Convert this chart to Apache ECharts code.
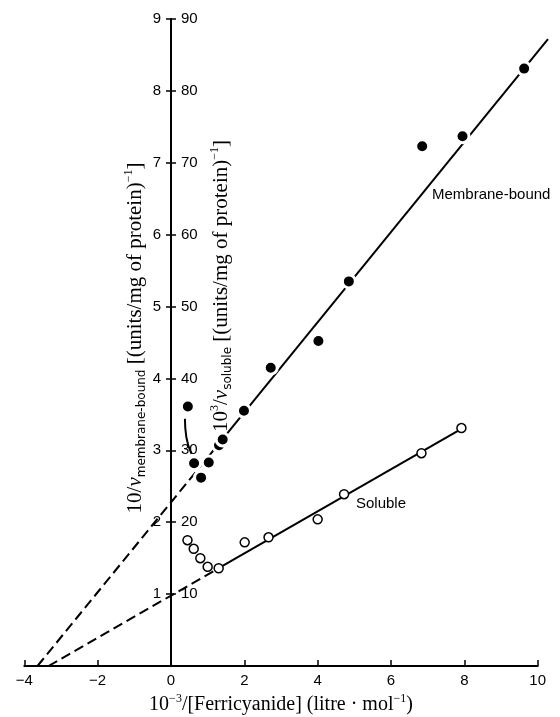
<!DOCTYPE html>
<html><head><meta charset="utf-8">
<script src="https://cdn.jsdelivr.net/npm/echarts@6/dist/echarts.min.js"></script>
<style>html,body{margin:0;padding:0;background:#fff}#c{width:560px;height:717px}</style>
</head><body><div id="c"></div>
<script>
// ---- data ----
const xTickMin = -4, xTickMax = 10, xTickStep = 2;
const leftTickMax = 9, leftTickStep = 1;      // 10/v membrane-bound
const rightTickMax = 90, rightTickStep = 10;  // 10^3/v soluble
const membraneX = [0.46, 0.63, 0.82, 1.03, 1.31, 1.41, 1.99, 2.72, 4.02, 4.85, 6.85, 7.95, 9.63];
const membraneY = [3.61, 2.82, 2.62, 2.83, 3.07, 3.15, 3.55, 4.15, 4.52, 5.35, 7.23, 7.37, 8.31];
const solubleX  = [0.45, 0.62, 0.80, 1.00, 1.30, 2.01, 2.66, 4.00, 4.72, 6.83, 7.92];
const solubleY  = [17.5, 16.3, 15.0, 13.8, 13.6, 17.2, 17.9, 20.4, 23.9, 29.6, 33.1];
const membraneFitDashed = [[-3.64, 0], [1.3, 3.09]];
const membraneFitSolid  = [[1.3, 3.09], [10.28, 8.72]];
const solubleFitDashed  = [[-3.34, 0], [1.3, 13.6]];
const solubleFitSolid   = [[1.3, 13.6], [7.92, 33.0]];
const lowConcCurve = [[0.38, 3.44], [0.42, 3.18], [0.56, 2.95]];
const fitLineXMax = 10.28;   // membrane-bound fit runs a little past the axis end

const zip = (a, b) => a.map((v, i) => [v, b[i]]);
const SERIF = 'Liberation Serif';
const SANS = 'Liberation Sans';
function makeRich(fs) {
  return {
    a: {fontFamily: SERIF, fontSize: fs, color: '#000', lineHeight: fs + 4},
    v: {fontFamily: SERIF, fontSize: fs, fontStyle: 'italic', color: '#000', lineHeight: fs + 4},
    s: {fontFamily: 'DejaVu Sans', fontSize: 12, color: '#000', verticalAlign: 'bottom', lineHeight: 12},
    p: {fontFamily: SERIF, fontSize: 12, color: '#000', verticalAlign: 'top', lineHeight: 12}
  };
}
const noAxis = {show: false};
const hiddenY = (max, gi) => ({type: 'value', gridIndex: gi, min: 0, max: max, show: false,
  axisLine: noAxis, axisTick: noAxis, axisLabel: noAxis, splitLine: noAxis});
const hiddenX = (min, max, gi) => ({type: 'value', gridIndex: gi, min: min, max: max, show: false,
  axisLine: noAxis, axisTick: noAxis, axisLabel: noAxis, splitLine: noAxis});

const L = 24.3, R = 22.3;
const W = 560 - L - R;
const pxPerUnit = W / (xTickMax - xTickMin);
const x0px = L + (0 - xTickMin) * pxPerUnit;
const G = {top: 19, bottom: 51, outerBoundsMode: 'none', containLabel: false};
const chart = echarts.init(document.getElementById('c'), null, {renderer: 'canvas'});
chart.setOption({
  animation: false,
  backgroundColor: '#fff',
  grid: [
    Object.assign({left: L, right: R}, G),                       // plotting grid
    Object.assign({left: x0px, right: R}, G),                    // left-scale axis at x = 0
    Object.assign({left: L, right: 560 - x0px}, G),              // right-scale axis at x = 0
    Object.assign({left: L, right: 560 - L - (fitLineXMax - xTickMin) * pxPerUnit}, G) // extended fit line
  ],
  xAxis: [{
    type: 'value', gridIndex: 0, min: xTickMin, max: xTickMax, interval: xTickStep,
    axisLine: {onZero: false, lineStyle: {color: '#000', width: 2}},
    axisTick: {inside: true, length: 6, lineStyle: {color: '#000', width: 1.5}},
    axisLabel: {color: '#000', fontFamily: SANS, fontSize: 15, margin: 7,
      formatter: v => String(v).replace('-', '\u2212')},
    splitLine: {show: false},
    name: '{a|10}{p|\u22123}{a|/[Ferricyanide] (litre \u00b7 mol}{p|\u22121}{a|)}',
    nameLocation: 'middle', nameGap: 26,
    nameTextStyle: {rich: makeRich(20)}
  },
  hiddenX(0, xTickMax, 1),
  hiddenX(xTickMin, 0, 2),
  hiddenX(xTickMin, fitLineXMax, 3)],
  yAxis: [
    hiddenY(leftTickMax, 0),
    hiddenY(rightTickMax, 0),
    {
      type: 'value', gridIndex: 1, min: 0, max: leftTickMax, interval: leftTickStep, position: 'left',
      axisLine: {onZero: false, lineStyle: {color: '#000', width: 2}},
      axisTick: {length: 5, lineStyle: {color: '#000', width: 1.5}},
      axisLabel: {color: '#000', fontFamily: SANS, fontSize: 15, margin: 10,
        formatter: v => v === 0 ? '' : String(v)},
      splitLine: {show: false}
    }, {
      type: 'value', gridIndex: 2, min: 0, max: rightTickMax, interval: rightTickStep, position: 'right',
      axisLine: {onZero: false, lineStyle: {color: '#000', width: 2}},
      axisTick: {length: 5, lineStyle: {color: '#000', width: 1.5}},
      axisLabel: {color: '#000', fontFamily: SANS, fontSize: 15, margin: 10,
        formatter: v => v === 0 ? '' : String(v)},
      splitLine: {show: false}
    },
    hiddenY(leftTickMax, 3)],
  series: [
    {type: 'line', xAxisIndex: 0, yAxisIndex: 0, data: membraneFitDashed, symbol: 'none', silent: true,
      lineStyle: {color: '#000', width: 2, type: [10, 5]}},
    {type: 'line', xAxisIndex: 3, yAxisIndex: 4, data: membraneFitSolid, symbol: 'none', silent: true,
      lineStyle: {color: '#000', width: 2}},
    {type: 'line', xAxisIndex: 0, yAxisIndex: 1, data: solubleFitDashed, symbol: 'none', silent: true,
      lineStyle: {color: '#000', width: 2, type: [10, 5]}},
    {type: 'line', xAxisIndex: 0, yAxisIndex: 1, data: solubleFitSolid, symbol: 'none', silent: true,
      lineStyle: {color: '#000', width: 2}},
    {type: 'line', xAxisIndex: 0, yAxisIndex: 0, data: lowConcCurve, symbol: 'none', smooth: true, silent: true,
      lineStyle: {color: '#000', width: 2}},
    {type: 'scatter', xAxisIndex: 0, yAxisIndex: 0, data: zip(membraneX, membraneY), symbolSize: 13, z: 5,
      itemStyle: {color: '#000', borderColor: '#fff', borderWidth: 3, opacity: 1}},
    {type: 'scatter', xAxisIndex: 0, yAxisIndex: 1, data: zip(solubleX, solubleY), symbolSize: 9, z: 5,
      itemStyle: {color: '#fff', borderColor: '#000', borderWidth: 1.5, opacity: 1}}
  ],
  graphic: [
    {type: 'text', x: 135, y: 338, rotation: Math.PI / 2,
      style: {text: '{a|10/}{v|v}{s|membrane-bound}{a| [(units/mg of protein)}{p|\u22121}{a|]}',
        rich: makeRich(21), align: 'center', verticalAlign: 'middle'}},
    {type: 'text', x: 221, y: 286, rotation: Math.PI / 2,
      style: {text: '{a|10}{p|3}{a|/}{v|v}{s|soluble}{a| [(units/mg of protein)}{p|\u22121}{a|]}',
        rich: makeRich(21), align: 'center', verticalAlign: 'middle'}},
    {type: 'text', x: 432, y: 195,
      style: {text: 'Membrane-bound', font: '15px "Liberation Sans"', fill: '#000',
        align: 'left', verticalAlign: 'middle'}},
    {type: 'text', x: 356, y: 504,
      style: {text: 'Soluble', font: '15px "Liberation Sans"', fill: '#000',
        align: 'left', verticalAlign: 'middle'}}
  ]
});
</script></body></html>
